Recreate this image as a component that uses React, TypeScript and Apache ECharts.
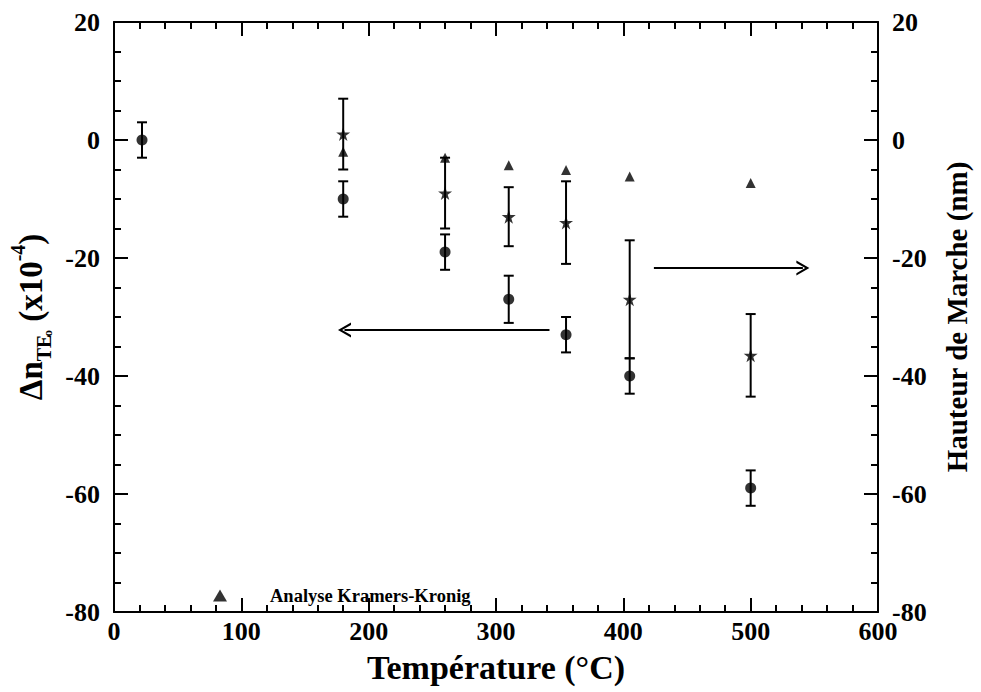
import React, { useEffect, useRef } from "react";
import * as echarts from "echarts";

const temps = [22, 180, 260, 310, 355, 405, 500];
const dnValues = [0, -10, -19, -27, -33, -40, -59];
const dnLow = [-3, -13, -22, -31, -36, -43, -62];
const dnHigh = [3, -7, -16, -23, -30, -37, -56];

const stepTemps = [180, 260, 310, 355, 405, 500];
const stepValues = [1, -9, -13, -14, -27, -36.5];
const stepLow = [-5, -15, -18, -21, -37, -43.5];
const stepHigh = [7, -3, -8, -7, -17, -29.5];

const kkTemps = [180, 260, 310, 355, 405, 500];
const kkValues = [-2, -3, -4.3, -5.1, -6.2, -7.3];

const xTicks = [0, 100, 200, 300, 400, 500, 600];
const yTicks = [-80, -60, -40, -20, 0, 20];

const arrowLeft = { fromX: 342, toX: 181, y: -32.2 };
const arrowRight = { fromX: 424, toX: 541, y: -21.7 };

const FONT = "Liberation Serif";
const STAR =
  "path://M50,0 L61,35 L98,35 L68,57 L79,91 L50,70 L21,91 L32,57 L2,35 L39,35 Z";
const CHEVRON = "path://M0,10 L5,0 L10,10 L8.4,10 L5,3.2 L1.6,10 Z";

function errorItem(params: any, api: any) {
  const x = api.value(0);
  const lo = api.coord([x, api.value(1)]);
  const hi = api.coord([x, api.value(2)]);
  const w = 5;
  const st = { stroke: "#000", lineWidth: 2 };
  return {
    type: "group",
    children: [
      { type: "line", shape: { x1: lo[0], y1: lo[1], x2: hi[0], y2: hi[1] }, style: st },
      { type: "line", shape: { x1: lo[0] - w, y1: lo[1], x2: lo[0] + w, y2: lo[1] }, style: st },
      { type: "line", shape: { x1: hi[0] - w, y1: hi[1], x2: hi[0] + w, y2: hi[1] }, style: st },
    ],
  };
}

export default function App() {
  const ref = useRef<HTMLDivElement>(null);
  useEffect(() => {
    const chart = echarts.init(ref.current!, null, { renderer: "svg" });
    const axisLine = { show: true, onZero: false, lineStyle: { color: "#000", width: 2 } };
    const labelStyle = { color: "#000", fontFamily: FONT, fontWeight: "bold" as const, fontSize: 26 };
    const xBase = {
      type: "value" as const,
      min: xTicks[0],
      max: xTicks[xTicks.length - 1],
      interval: 100,
      axisLine,
      axisTick: { show: true, inside: true, length: 14, lineStyle: { color: "#000", width: 2 } },
      minorTick: { show: true, splitNumber: 5, length: 7, lineStyle: { color: "#000", width: 2 } },
      splitLine: { show: false },
    };
    const yBase = {
      type: "value" as const,
      min: yTicks[0],
      max: yTicks[yTicks.length - 1],
      interval: 20,
      axisLine,
      axisTick: { show: true, inside: true, length: 14, lineStyle: { color: "#000", width: 2 } },
      minorTick: { show: true, splitNumber: 4, length: 7, lineStyle: { color: "#000", width: 2 } },
      splitLine: { show: false },
    };
    chart.setOption({
      animation: false,
      backgroundColor: "#fff",
      grid: { left: 114, right: 103, top: 22, bottom: 80, containLabel: false, outerBoundsMode: "none" },
      xAxis: [
        {
          ...xBase,
          position: "bottom",
          axisLabel: { ...labelStyle, margin: 6 },
          name: "Température (°C)",
          nameLocation: "middle",
          nameGap: 36,
          nameTextStyle: { color: "#000", fontFamily: FONT, fontWeight: "bold", fontSize: 34, verticalAlign: "top", lineHeight: 38 },
        },
        { ...xBase, position: "top", axisLabel: { show: false } },
      ],
      yAxis: [
        {
          ...yBase,
          position: "left",
          axisLabel: { ...labelStyle, margin: 14 },
          name: "{a|Δn}{sub|TE}{o|o}{a| (x10}{sup|-4}{a|)}",
          nameLocation: "middle",
          nameRotate: 90,
          nameGap: 60,
          nameTextStyle: {
            color: "#000",
            rich: {
              a: { fontFamily: FONT, fontWeight: "bold", fontSize: 33, color: "#000", lineHeight: 46, verticalAlign: "middle" },
              sub: { fontFamily: FONT, fontWeight: "bold", fontSize: 20, color: "#000", lineHeight: 46, verticalAlign: "bottom" },
              o: { fontFamily: FONT, fontWeight: "bold", fontSize: 13, color: "#000", lineHeight: 46, verticalAlign: "bottom", padding: [0, 0, 0, -2] },
              sup: { fontFamily: FONT, fontWeight: "bold", fontSize: 20, color: "#000", lineHeight: 46, verticalAlign: "top" },
            },
          },
        },
        {
          ...yBase,
          position: "right",
          axisLabel: { ...labelStyle, margin: 14 },
          name: "Hauteur de Marche (nm)",
          nameLocation: "middle",
          nameRotate: 90,
          nameGap: 64,
          nameTextStyle: { color: "#000", fontFamily: FONT, fontWeight: "bold", fontSize: 29 },
        },
      ],
      legend: {
        data: ["Analyse Kramers-Kronig"],
        left: 208,
        top: 581,
        itemWidth: 14,
        itemHeight: 12,
        textStyle: { color: "#000", fontFamily: FONT, fontWeight: "bold", fontSize: 18.5, padding: [0, 0, 0, 38] },
        selectedMode: false,
      },
      series: [
        {
          type: "custom",
          name: "dnErr",
          xAxisIndex: 0,
          yAxisIndex: 0,
          renderItem: errorItem,
          encode: { x: 0, y: [1, 2] },
          data: temps.map((t, i) => [t, dnLow[i], dnHigh[i]]),
          silent: true,
          z: 2,
        },
        {
          type: "custom",
          name: "stepErr",
          xAxisIndex: 0,
          yAxisIndex: 1,
          renderItem: errorItem,
          encode: { x: 0, y: [1, 2] },
          data: stepTemps.map((t, i) => [t, stepLow[i], stepHigh[i]]),
          silent: true,
          z: 2,
        },
        {
          type: "scatter",
          name: "Δn",
          xAxisIndex: 0,
          yAxisIndex: 0,
          symbol: "circle",
          symbolSize: 11,
          itemStyle: { color: "#000" },
          data: temps.map((t, i) => [t, dnValues[i]]),
          silent: true,
          z: 3,
          markLine: {
            silent: true,
            symbol: ["none", CHEVRON],
            symbolSize: [15, 13],
            label: { show: false },
            lineStyle: { color: "#000", width: 2, type: "solid" },
            data: [
              [{ coord: [arrowLeft.fromX, arrowLeft.y] }, { coord: [arrowLeft.toX, arrowLeft.y] }],
              [{ coord: [arrowRight.fromX, arrowRight.y] }, { coord: [arrowRight.toX, arrowRight.y] }],
            ],
          },
        },
        {
          type: "scatter",
          name: "Hauteur",
          xAxisIndex: 0,
          yAxisIndex: 1,
          symbol: STAR,
          symbolSize: 14,
          itemStyle: { color: "#000" },
          data: stepTemps.map((t, i) => [t, stepValues[i]]),
          silent: true,
          z: 3,
        },
        {
          type: "scatter",
          name: "Analyse Kramers-Kronig",
          xAxisIndex: 0,
          yAxisIndex: 1,
          symbol: "triangle",
          symbolSize: 10,
          itemStyle: { color: "#000" },
          data: kkTemps.map((t, i) => [t, kkValues[i]]),
          silent: true,
          z: 4,
        },
      ],
    });
    return () => chart.dispose();
  }, []);
  return (
    <div
      ref={ref}
      style={{ position: "absolute", left: 0, top: 0, width: 981, height: 692 }}
    />
  );
}
